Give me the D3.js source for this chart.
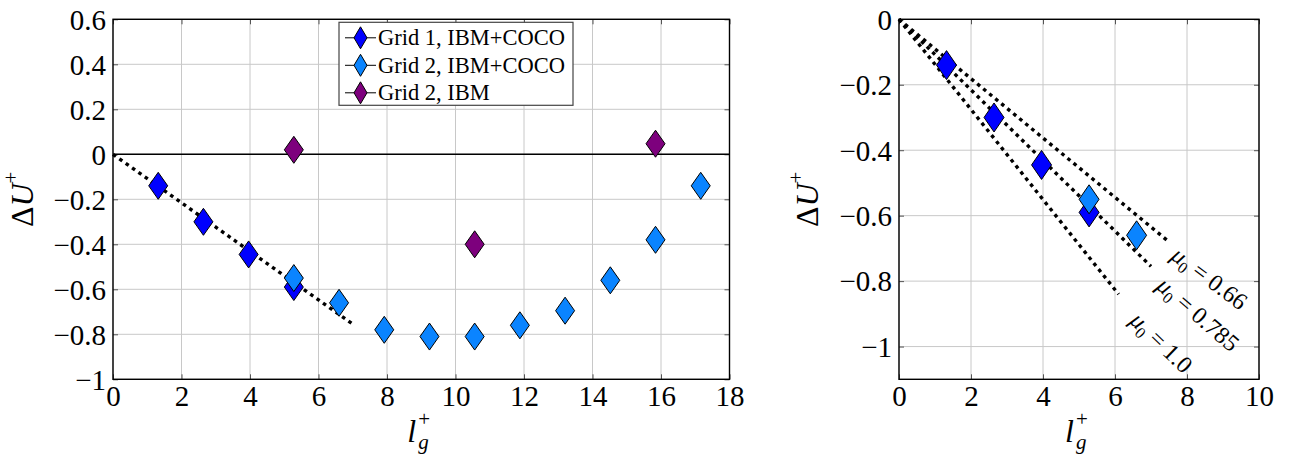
<!DOCTYPE html>
<html>
<head>
<meta charset="utf-8">
<script src="https://cdn.jsdelivr.net/npm/d3@7"></script>
<style>
  html, body { margin: 0; padding: 0; background: #fff; }
  svg { display: block; }
</style>
</head>
<body>
<svg id="chart" width="1295" height="454" font-family="Liberation Serif"></svg>
<script>
// Velocity shift ΔU+ against grid spacing l_g+
const grid1X = [1.32, 2.64, 3.96, 5.28];
const grid1Y = [-0.14, -0.30, -0.445, -0.59];

const grid2CocoX = [5.28, 6.60, 7.92, 9.24, 10.56, 11.88, 13.20, 14.52, 15.84, 17.16];
const grid2CocoY = [-0.55, -0.66, -0.78, -0.81, -0.81, -0.76, -0.695, -0.56, -0.38, -0.14];

const grid2IbmX = [5.28, 10.56, 15.84];
const grid2IbmY = [0.02, -0.40, 0.047];

const seriesNames = ["Grid 1, IBM+COCO", "Grid 2, IBM+COCO", "Grid 2, IBM"];
const seriesColors = ["#0000ff", "#0a84ff", "#7d007d"];

// Reference slopes ΔU+ ∝ -μ0 l_g+ (straight lines from the origin)
const slopeMu = ["1.0", "0.785", "0.66"];
const slopeEndX = [6.1, 7.0, 7.5];
const slopeEndY = [-0.84, -0.755, -0.68];
const slopeLabelX = [6.38, 7.12, 7.52];
const slopeLabelY = [-0.925, -0.82, -0.73];

const leftXTicks = [0, 2, 4, 6, 8, 10, 12, 14, 16, 18];
const leftYTicks = [-1, -0.8, -0.6, -0.4, -0.2, 0, 0.2, 0.4, 0.6];
const rightXTicks = [0, 2, 4, 6, 8, 10];
const rightYTicks = [-1, -0.8, -0.6, -0.4, -0.2, 0];

// number of Grid 2 IBM+COCO points shown in the close-up panel
const closeupCocoCount = 2;

const FONT = "Liberation Serif";
const svg = d3.select("#chart");
const fmt = v => (v < 0 ? "\u2212" : "") + d3.format("")(Math.abs(v));

function panel(opts) {
  const g = svg.append("g").attr("transform", `translate(${opts.left},${opts.top})`);
  const x = d3.scaleLinear().domain(opts.xDomain).range([0, opts.width]);
  const y = d3.scaleLinear().domain(opts.yDomain).range([opts.height, 0]);

  // grid
  g.append("g").selectAll("line").data(opts.xTicks).join("line")
    .attr("x1", d => x(d)).attr("x2", d => x(d))
    .attr("y1", 0).attr("y2", opts.height)
    .attr("stroke", "#c8c8c8").attr("stroke-width", 1);
  g.append("g").selectAll("line").data(opts.yTicks).join("line")
    .attr("y1", d => y(d)).attr("y2", d => y(d))
    .attr("x1", 0).attr("x2", opts.width)
    .attr("stroke", "#c8c8c8").attr("stroke-width", 1);

  // axes with inward ticks on all sides
  const ax = (gen, tx) => {
    const a = g.append("g").attr("transform", tx).call(gen)
      .attr("font-family", FONT).attr("font-size", 29);
    a.select(".domain").remove();
    a.selectAll(".tick line").attr("stroke", "#555").attr("stroke-width", 1);
    a.selectAll(".tick text").attr("fill", "#000");
    return a;
  };
  const bottom = ax(d3.axisBottom(x).tickValues(opts.xTicks).tickFormat(fmt).tickSizeInner(-5).tickPadding(5),
    `translate(0,${opts.height})`);
  bottom.selectAll(".tick text").attr("dy", "0.76em");
  ax(d3.axisTop(x).tickValues(opts.xTicks).tickFormat("").tickSizeInner(-5), "translate(0,0)");
  const leftA = ax(d3.axisLeft(y).tickValues(opts.yTicks).tickFormat(fmt).tickSizeInner(-5).tickPadding(7),
    "translate(0,0)");
  leftA.selectAll(".tick text").attr("dy", "0.34em");
  ax(d3.axisRight(y).tickValues(opts.yTicks).tickFormat("").tickSizeInner(-5), `translate(${opts.width},0)`);

  // frame
  g.append("rect").attr("x", 0).attr("y", 0).attr("width", opts.width).attr("height", opts.height)
    .attr("fill", "none").attr("stroke", "#000").attr("stroke-width", 1.4);

  // x label  l_g^+
  const xl = g.append("text").attr("transform", `translate(${opts.width / 2 - 14},${opts.height + 63})`)
    .attr("font-size", 32);
  xl.append("tspan").attr("font-style", "italic").text("l");
  xl.append("tspan").attr("font-size", 21).attr("dy", -16).attr("dx", 2).text("+");
  g.append("text").attr("transform", `translate(${opts.width / 2 - 3},${opts.height + 70})`)
    .attr("font-size", 21).attr("font-style", "italic").text("g");

  // y label ΔU^+
  const yl = g.append("text")
    .attr("transform", `translate(${opts.yLabelX},${opts.height / 2}) rotate(-90)`)
    .attr("text-anchor", "middle").attr("font-size", 32);
  yl.append("tspan").text("\u0394");
  yl.append("tspan").attr("font-style", "italic").text("U");
  yl.append("tspan").attr("font-size", 21).attr("dy", -15).text("+");

  return { g, x, y };
}

function diamonds(p, xs, ys, color, hw, hh) {
  const pts = xs.map((v, i) => [v, ys[i]]);
  p.g.append("g").selectAll("path").data(pts).join("path")
    .attr("d", d => {
      const cx = p.x(d[0]), cy = p.y(d[1]);
      return `M${cx},${cy - hh}L${cx + hw},${cy}L${cx},${cy + hh}L${cx - hw},${cy}Z`;
    })
    .attr("fill", color).attr("stroke", "#000").attr("stroke-width", 1);
}

function dotted(p, x1, y1, x2, y2) {
  p.g.append("line")
    .attr("x1", p.x(x1)).attr("y1", p.y(y1)).attr("x2", p.x(x2)).attr("y2", p.y(y2))
    .attr("stroke", "#000").attr("stroke-width", 3.4).attr("stroke-dasharray", "3.6 4.2");
}

// ---- left panel ----
const L = panel({
  left: 113, top: 19.3, width: 616.5, height: 360,
  xDomain: [0, 18], yDomain: [-1, 0.6],
  xTicks: leftXTicks, yTicks: leftYTicks, yLabelX: -80
});
L.g.append("line").attr("x1", 0).attr("x2", 616.5).attr("y1", L.y(0)).attr("y2", L.y(0))
  .attr("stroke", "#000").attr("stroke-width", 1.6);
dotted(L, 0, 0, slopeEndX[1], slopeEndY[1]);
diamonds(L, grid1X, grid1Y, seriesColors[0], 9.5, 13.5);
diamonds(L, grid2CocoX, grid2CocoY, seriesColors[1], 9.5, 13.5);
diamonds(L, grid2IbmX, grid2IbmY, seriesColors[2], 9.5, 13.5);

// legend
const leg = L.g.append("g").attr("transform", "translate(226,3)");
leg.append("rect").attr("x", 0).attr("y", 0).attr("width", 234).attr("height", 83)
  .attr("fill", "#fff").attr("stroke", "#444").attr("stroke-width", 1.2);
seriesNames.forEach((name, i) => {
  const cy = 15.5 + i * 27.5;
  leg.append("line").attr("x1", 6).attr("x2", 37).attr("y1", cy).attr("y2", cy)
    .attr("stroke", "#000").attr("stroke-width", 1);
  leg.append("path").attr("d", `M21.5,${cy - 11}L28,${cy}L21.5,${cy + 11}L15,${cy}Z`)
    .attr("fill", seriesColors[i]).attr("stroke", "#000").attr("stroke-width", 1);
  leg.append("text").attr("x", 39).attr("y", cy).attr("dy", "0.34em")
    .attr("font-size", 22.5).text(name);
});

// ---- right panel ----
const R = panel({
  left: 899, top: 19.3, width: 360, height: 360,
  xDomain: [0, 10], yDomain: [-1.1, 0],
  xTicks: rightXTicks, yTicks: rightYTicks, yLabelX: -81
});
const labelTilt = [44, 41, 37];
slopeMu.forEach((mu, i) => {
  dotted(R, 0, 0, slopeEndX[i], slopeEndY[i]);
  const t = R.g.append("text")
    .attr("transform", `translate(${R.x(slopeLabelX[i])},${R.y(slopeLabelY[i])}) rotate(${labelTilt[i]})`)
    .attr("font-size", 24);
  t.append("tspan").attr("font-style", "italic").text("\u03bc");
  t.append("tspan").attr("font-size", 16).attr("dy", 5).text("0");
  t.append("tspan").attr("dy", -5).text(" = " + mu);
});
diamonds(R, grid1X, grid1Y, seriesColors[0], 10, 14.5);
diamonds(R, grid2CocoX.slice(0, closeupCocoCount), grid2CocoY.slice(0, closeupCocoCount), seriesColors[1], 10, 14.5);

svg.selectAll("text").attr("font-family", FONT);
</script>
</body>
</html>
